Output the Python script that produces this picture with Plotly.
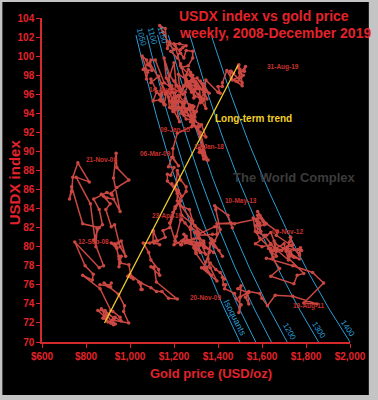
import numpy as np
import plotly.graph_objects as go

# ---------------- data (weekly) ----------------
gold_2008 = [863,897,882,912, 906,915,905,948,975, 971,994,920,933, 912,925,926,886,
             854,883,877,918,887, 899,870,902,930, 932,960,955,922,
             913,864,785,829,833, 796,749,860,880, 835,860,785,735,725,
             735,740,763,815, 755,820,845,850]
usdx_2008 = [76.0,75.9,76.2,75.8, 75.9,76.2,75.8,75.0,73.8, 73.2,72.0,72.3,71.9, 72.0,71.8,72.5,73.3,
             73.3,72.7,72.5,72.0,73.2, 72.1,73.5,72.9,72.5, 72.6,72.2,72.6,73.2,
             73.3,75.6,77.0,76.5,77.1, 78.0,80.5,77.8,78.0, 80.7,82.0,82.4,86.3,85.0,
             85.8,87.3,88.8,86.8, 87.3,84.5,80.0,81.9]
gold_2009 = [875,860,835,895,919, 915,940,995,940, 937,925,955,925, 895,880,870,910,
             890,915,930,955,980, 960,945,935,940, 930,915,940,950,955,
             960,950,950,955, 995,1005,1015,990, 1000,1050,1050,1055,1040,
             1095,1120,1145,1175, 1215,1120,1110,1095]
usdx_2009 = [82.3,83.9,85.0,85.7,85.4, 85.6,86.2,87.0,88.3, 89.8,87.2,83.7,85.0, 85.1,85.3,85.5,84.5,
             83.9,82.1,82.3,80.0,79.0, 80.6,80.4,80.1,79.9, 80.3,80.4,79.8,78.7,78.4,
             79.0,79.0,77.9,78.3, 78.1,76.8,76.6,76.9, 77.1,76.2,75.5,75.5,76.3,
             75.7,75.3,75.3,74.6, 74.5,76.3,77.9,77.9]
gold_2010 = [1135,1130,1095,1085, 1060,1090,1115,1110, 1135,1105,1105,1105, 1125,1160,1150,1180,
             1205,1230,1200,1210, 1215,1230,1255,1255, 1205,1195,1190,1180, 1205,1210,1230,1235,
             1250,1275,1280,1300, 1345,1370,1345,1325, 1395,1365,1355,1365, 1405,1385,1375,1420]
usdx_2010 = [77.0,77.6,78.6,79.4, 80.4,80.4,80.6,80.4, 80.2,80.5,81.6,81.7, 80.6,81.0,81.7,82.0,
             84.0,84.8,86.3,86.5, 88.0,87.0,86.3,85.8, 84.2,83.6,83.1,82.5, 80.6,81.1,82.8,82.9,
             82.5,81.8,80.5,79.3, 77.8,77.0,77.6,77.8, 76.4,77.8,78.7,80.4, 79.6,80.0,80.5,79.0]
gold_2011 = [1370,1360,1345,1335, 1350,1365,1390,1410, 1430,1420,1425,1435, 1430,1475,1485,1505,
             1495,1505,1490,1535, 1540,1525,1540,1500, 1540,1590,1600,1625, 1660,1740,1850,1790,
             1880,1830,1740,1620, 1650,1680,1640,1745, 1760,1790,1720,1710, 1720,1640,1600,1570]
usdx_2011 = [80.8,79.4,78.4,77.8, 77.8,78.3,77.6,77.3, 76.6,76.8,76.0,76.0, 75.6,75.1,74.5,73.9,
             73.1,75.9,75.6,75.2, 74.0,74.7,75.2,74.7, 75.3,75.1,74.6,73.8, 74.9,74.8,74.0,74.1,
             76.2,77.3,78.0,78.8, 78.7,77.7,76.9,76.1, 77.0,77.2,78.8,79.5, 78.6,80.2,80.0,80.3]
gold_2012 = [1620,1640,1660,1730, 1745,1725,1725,1770, 1710,1700,1660,1665, 1630,1655,1640,1650,
             1640,1590,1570,1560, 1590,1590,1570,1595, 1580,1590,1580,1620, 1605,1615,1670,1665,
             1735,1770,1770,1775, 1780,1765,1745,1715, 1725,1730,1730,1740, 1715,1700,1660,1660]
usdx_2012 = [81.2,81.5,80.3,79.5, 78.9,79.2,79.0,78.7, 79.6,80.3,79.8,79.0, 79.8,79.6,79.5,78.9,
             79.8,80.9,81.6,83.0, 82.5,82.2,82.2,81.6, 83.3,83.3,83.7,82.4, 82.7,82.5,81.6,81.2,
             80.1,79.1,79.3,79.9, 79.6,79.7,79.7,79.8, 80.5,81.0,81.0,80.2, 80.0,79.8,79.6,79.8]
gold_2013 = [1655,1665,1690,1660, 1665,1640,1610,1580, 1575,1590,1610,1595, 1575,1475,1395,1460,
             1465,1445,1385,1390, 1410,1385,1295,1235, 1225,1280,1295,1310, 1310,1375,1395,1395,
             1385,1310,1335,1335, 1310,1275,1315,1345, 1310,1290,1245,1245, 1230,1235,1205,1200]
usdx_2013 = [80.6,79.5,79.6,79.9, 79.6,80.3,81.2,81.5, 82.7,82.2,82.3,83.0, 82.9,82.4,82.4,82.5,
             82.0,83.3,84.3,83.9, 81.8,80.6,82.2,83.3, 84.5,82.8,82.2,81.6, 81.2,81.3,81.3,82.1,
             82.1,81.3,80.4,80.3, 80.1,80.4,79.6,79.2, 81.0,80.8,80.6,80.7, 80.2,80.2,80.6,80.2]
gold_2014 = [1235,1255,1265,1245, 1260,1320,1320,1330, 1340,1380,1335,1295, 1300,1320,1295,1300,
             1300,1290,1295,1250, 1255,1275,1315,1315, 1320,1335,1310,1295, 1310,1315,1275,1285,
             1270,1230,1215,1215, 1190,1220,1235,1170, 1170,1185,1200,1175, 1190,1220,1195,1195]
usdx_2014 = [80.6,81.1,80.5,81.3, 80.7,80.3,80.2,80.2, 79.9,79.4,80.2,80.1, 80.4,79.4,79.8,79.8,
             79.4,79.9,80.1,80.4, 80.5,80.6,80.4,80.1, 80.3,80.6,80.9,81.5, 81.4,81.4,82.1,82.7,
             83.9,84.3,84.8,85.6, 86.6,85.9,85.3,86.9, 87.6,87.5,88.3,88.4, 89.4,88.5,89.4,90.3]
gold_2015 = [1215,1280,1290,1285, 1235,1225,1205,1210, 1165,1155,1180,1200, 1210,1200,1175,1180,
             1190,1190,1225,1190, 1170,1180,1200,1175, 1165,1160,1130,1095, 1095,1115,1160,1135,
             1120,1105,1135,1145, 1140,1155,1165,1145, 1090,1080,1075,1055, 1080,1075,1065,1060]
usdx_2015 = [91.9,92.6,94.7,94.8, 94.0,94.5,94.4,95.3, 97.7,99.8,98.0,97.4, 97.0,99.3,97.5,96.9,
             95.3,94.7,93.1,96.9, 96.3,94.6,94.2,95.7, 96.3,96.0,97.9,97.2, 97.6,96.6,94.9,96.0,
             96.2,95.3,95.4,96.2, 95.3,94.9,96.1,97.1, 99.3,99.1,99.6,100.0, 98.3,97.6,98.7,98.6]
gold_2016 = [1100,1090,1095,1115, 1155,1240,1225,1220, 1270,1250,1250,1220, 1220,1240,1235,1240,
             1290,1290,1275,1250, 1245,1270,1300,1320, 1340,1360,1330,1320, 1350,1335,1345,1320,
             1320,1330,1310,1335, 1320,1255,1255,1265, 1275,1305,1230,1205, 1180,1170,1160,1135]
usdx_2016 = [98.5,99.0,99.6,99.6, 97.2,96.0,96.6,98.1, 97.3,96.2,95.1,95.9, 94.6,94.1,94.6,95.1,
             92.7,94.1,94.6,95.5, 93.9,94.6,94.2,95.5, 96.3,96.1,97.1,97.4, 95.5,96.2,94.5,95.5,
             95.1,95.3,96.0,95.5, 95.6,97.6,98.0,98.6, 98.3,97.1,99.0,101.1, 101.5,100.8,102.9,103.2]
gold_2017 = [1150,1180,1200,1185, 1215,1230,1240,1255, 1225,1200,1230,1245, 1255,1285,1285,1265,
             1235,1230,1255,1255, 1275,1265,1255,1245, 1225,1215,1230,1255, 1265,1280,1290,1290,
             1325,1345,1315,1300, 1275,1290,1280,1270, 1270,1275,1280,1290, 1280,1245,1255,1280]
usdx_2017 = [102.5,101.2,100.7,100.5, 99.8,100.7,100.9,101.1, 101.3,101.3,100.3,99.8, 100.6,100.5,99.8,99.0,
             98.8,99.2,97.1,97.4, 96.6,97.3,97.2,96.8, 95.8,95.8,95.2,94.3, 93.8,93.5,93.6,93.2,
             92.8,91.5,91.9,92.6, 93.1,93.6,93.5,94.4, 94.9,94.4,93.6,92.8, 93.7,93.8,93.4,93.3]
gold_2018 = [1320,1320,1335,1350, 1335,1315,1355,1330, 1320,1320,1315,1345, 1330,1335,1335,1320,
             1310,1315,1290,1300, 1300,1295,1280,1265, 1250,1255,1240,1230, 1215,1205,1180,1200,
             1200,1195,1200,1195, 1195,1205,1225,1235, 1230,1210,1225,1225, 1230,1245,1260,1280]
usdx_2018 = [91.6,92.0,90.5,89.1, 89.2,90.3,89.1,89.9, 90.1,90.1,89.9,89.4, 90.1,89.9,89.6,91.6,
             92.6,92.6,93.6,94.2, 94.2,93.6,94.8,94.5, 94.5,94.2,94.7,94.4, 95.1,96.2,96.1,95.2,
             95.1,94.9,94.8,94.2, 95.6,95.7,95.7,96.4, 96.4,96.9,96.4,96.8, 96.5,96.9,96.9,96.2]
gold_2019 = [1290,1290,1285,1295, 1320,1315,1310,1330, 1295,1300,1300,1315, 1290,1295,1275,1285,
             1280,1285,1275,1285, 1305,1340,1345,1400, 1410,1400,1420,1420, 1440,1465,1515,1500,1525,
             1520,1500,1500,1495, 1490,1500,1490,1505, 1510,1460,1470,1460, 1455,1460,1480,1510]
usdx_2019 = [96.2,95.6,96.4,95.8, 95.6,96.7,96.9,96.5, 96.5,97.3,96.6,96.6, 97.3,96.9,97.0,98.0,
             97.5,97.3,98.0,97.6, 97.7,96.5,97.5,96.2, 96.1,96.8,96.8,97.2, 98.5,97.5,98.0,98.2,98.9,
             98.4,98.3,98.6,99.1, 98.8,98.3,97.3,97.8, 97.2,98.4,98.2,98.3, 98.4,97.7,97.4,96.9]

gold_all = (gold_2008 + gold_2009 + gold_2010 + gold_2011 + gold_2012 + gold_2013 +
            gold_2014 + gold_2015 + gold_2016 + gold_2017 + gold_2018 + gold_2019)
usdx_all = (usdx_2008 + usdx_2009 + usdx_2010 + usdx_2011 + usdx_2012 + usdx_2013 +
            usdx_2014 + usdx_2015 + usdx_2016 + usdx_2017 + usdx_2018 + usdx_2019)

trend_gold = [884, 1492]
trend_usdx = [72.0, 99.1]

iso_levels = [1050, 1100, 1150, 1200, 1300, 1400]
iso_usdx_top = 102.2
iso_usdx_bottom = 70.0

date_labels = ["31-Aug-19", "14-Aug-15", "09-Jan-15", "19-Jan-18", "06-Mar-09", "21-Nov-08",
               "10-May-13", "09-Nov-12", "23-Apr-10", "12-Sep-08", "20-Nov-09", "19-Aug-11"]
date_label_gold = [1696, 1159, 1203, 1359, 1115, 871, 1504, 1718, 1166, 836, 1345, 1811]
date_label_usdx = [98.85, 96.45, 92.25, 90.55, 89.8, 89.1, 84.75, 81.6, 83.2, 80.5, 74.7, 73.75]

x_ticks = [600, 800, 1000, 1200, 1400, 1600, 1800, 2000]
x_ticktext = ["$600", "$800", "$1,000", "$1,200", "$1,400", "$1,600", "$1,800", "$2,000"]
y_ticks = list(range(70, 105, 2))

# ---------------- styling ----------------
RED_TXT = "#e2232b"
RED_AX = "#d3282c"
PATH = "#cb4842"
BLUE = "#2a9fd4"
YEL = "#f1cf2a"
FONT = "Liberation Sans, Arial, sans-serif"

W, H = 378, 400
L, R, T, B = 42, 353, 18, 342


def pxx(p):
    return (p - L) / (R - L)


def pxy(p):
    return (B - p) / (B - T)


fig = go.Figure()

# isoquants
for lev in iso_levels:
    uu = np.linspace(iso_usdx_bottom, iso_usdx_top, 60)
    gg = lev * 100.0 / uu
    fig.add_trace(go.Scatter(x=gg, y=uu, mode="lines",
                             line=dict(color=BLUE, width=1), hoverinfo="skip",
                             showlegend=False))

# data path
fig.add_trace(go.Scatter(x=gold_all, y=usdx_all, mode="lines+markers",
                         line=dict(color=PATH, width=1.5),
                         marker=dict(color=PATH, size=3.5),
                         showlegend=False))

# trend
fig.add_trace(go.Scatter(x=trend_gold, y=trend_usdx, mode="lines",
                         line=dict(color=YEL, width=1.3), showlegend=False))

ann = []
# titles
ann.append(dict(x=pxx(178), y=pxy(16), xref="paper", yref="paper", xanchor="left", yanchor="middle",
                text="<b>USDX index vs gold price</b>", showarrow=False,
                font=dict(family=FONT, size=14, color=RED_TXT)))
ann.append(dict(x=pxx(178), y=pxy(33), xref="paper", yref="paper", xanchor="left", yanchor="middle",
                text="<b>weekly, 2008-December 2019</b>", showarrow=False,
                font=dict(family=FONT, size=14, color=RED_TXT)))
# axis titles
ann.append(dict(x=pxx(213), y=pxy(373), xref="paper", yref="paper", xanchor="center", yanchor="middle",
                text="<b>Gold price (USD/oz)</b>", showarrow=False,
                font=dict(family=FONT, size=13, color=RED_TXT)))
ann.append(dict(x=pxx(14), y=pxy(182), xref="paper", yref="paper", xanchor="center", yanchor="middle",
                text="<b>USDX index</b>", showarrow=False, textangle=-90,
                font=dict(family=FONT, size=15, color=RED_TXT)))
# watermark
ann.append(dict(x=pxx(297), y=pxy(177), xref="paper", yref="paper", xanchor="center", yanchor="middle",
                text="<b>The World Complex</b>", showarrow=False,
                font=dict(family=FONT, size=13, color="#3b3b3b")))
# trend label
ann.append(dict(x=pxx(256), y=pxy(118), xref="paper", yref="paper", xanchor="center", yanchor="middle",
                text="<b>Long-term trend</b>", showarrow=False,
                font=dict(family=FONT, size=10, color=YEL)))
# date labels
for t, gx, uy in zip(date_labels, date_label_gold, date_label_usdx):
    ann.append(dict(x=gx, y=uy, xref="x", yref="y", xanchor="center", yanchor="middle",
                    text="<b>" + t + "</b>", showarrow=False,
                    font=dict(family=FONT, size=6.5, color="#c8322e")))
# isoquant labels
iso_lab = [("1050", 143, 37, 75), ("1100", 154, 36, 75), ("1150", 164, 35, 74),
           ("1200", 292, 331, 60), ("1300", 322, 330, 58), ("1400", 351, 328, 56),
           ("Isoquants", 237, 318, 63)]
for t, x0, y0, ang in iso_lab:
    ann.append(dict(x=pxx(x0), y=pxy(y0), xref="paper", yref="paper", xanchor="center", yanchor="middle",
                    text=t, showarrow=False, textangle=ang,
                    font=dict(family=FONT, size=8 if t != "Isoquants" else 9, color=BLUE)))

shapes = [dict(type="rect", xref="paper", yref="paper", x0=pxx(2), x1=pxx(372), y0=pxy(395), y1=pxy(2),
               fillcolor="#000000", line=dict(width=0), layer="below")]

axis_common = dict(showgrid=False, zeroline=False, showline=True, linecolor=RED_AX, linewidth=1.5,
                   ticks="outside", ticklen=4, tickwidth=1, tickcolor=RED_AX,
                   tickfont=dict(family=FONT, size=10, color=RED_TXT))

fig.update_layout(
    width=W, height=H,
    margin=dict(l=L, r=W - R, t=T, b=H - B),
    paper_bgcolor="#c4c4c4", plot_bgcolor="rgba(0,0,0,0)",
    xaxis=dict(range=[600, 2000], tickvals=x_ticks, ticktext=["<b>%s</b>" % s for s in x_ticktext],
               **axis_common),
    yaxis=dict(range=[70, 104], tickvals=y_ticks, ticktext=["<b>%d</b>" % v for v in y_ticks],
               **axis_common),
    annotations=ann, shapes=shapes, showlegend=False,
)

fig.write_html("out.html", config={"displayModeBar": False},
               post_script="document.body.style.margin='0';document.body.style.overflow='hidden';")
